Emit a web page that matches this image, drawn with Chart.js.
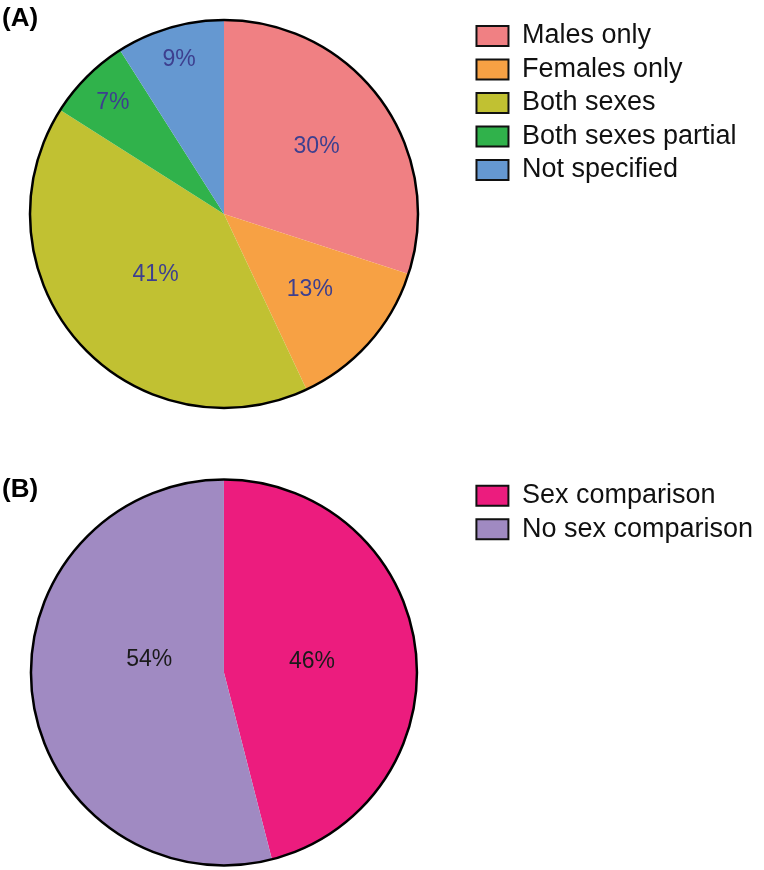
<!DOCTYPE html>
<html>
<head>
<meta charset="utf-8">
<script src="https://cdn.jsdelivr.net/npm/chart.js@4.4.1/dist/chart.umd.min.js"></script>
<style>
  body { margin: 0; background: #fff; overflow: hidden; }
  /* canvases are shifted left so the pie sits left of centre of its chart area */
  canvas { display: block; margin-left: -22px; }
</style>
</head>
<body>
<canvas id="graficoA" width="786" height="440"></canvas>
<canvas id="graficoB" width="786" height="430"></canvas>
<script>
const ctxA = document.getElementById('graficoA');
const ctxB = document.getElementById('graficoB');

    // (A) sex of animals used
    let grupos = ["Males only", "Females only", "Both sexes", "Both sexes partial", "Not specified"]
    let percentA = [30, 13, 41, 7, 9]
    let coresA = ["#f08083", "#f7a144", "#c1c132", "#30b24b", "#6598d1"]

    // (B) sex comparison
    let comparacao = ["Sex comparison", "No sex comparison"]
    let percentB = [46, 54]
    let coresB = ["#ec1c7e", "#a08ac2"]

    const fonte = '"Liberation Sans", Arial, Helvetica, sans-serif'

    // black outline round the whole pie, percent labels and the panel letter
    const piePlugin = {
        id: 'pieExtras',
        afterDatasetsDraw(chart, args, opts) {
            const c = chart.ctx
            const arcs = chart.getDatasetMeta(0).data
            const first = arcs[0]
            c.save()
            c.beginPath()
            c.arc(first.x, first.y, first.outerRadius, 0, Math.PI * 2)
            c.lineWidth = 2.5
            c.strokeStyle = '#000'
            c.stroke()

            c.font = '23px ' + fonte
            c.fillStyle = opts.labelColor
            c.textAlign = 'center'
            c.textBaseline = 'middle'
            const values = chart.data.datasets[0].data
            arcs.forEach((arc, i) => {
                const pos = opts.labelPos[i]
                const mid = (arc.startAngle + arc.endAngle) / 2
                const x = arc.x + Math.cos(mid) * arc.outerRadius * pos.r
                const y = arc.y + Math.sin(mid) * arc.outerRadius * pos.r + (pos.dy || 0)
                c.fillText(values[i] + '%', x, y)
            })

            c.font = 'bold 26px ' + fonte
            c.fillStyle = '#000'
            c.textAlign = 'left'
            c.textBaseline = 'alphabetic'
            c.fillText(opts.panel, 24, opts.panelY)
            c.restore()
        }
    }

    function legendLabels(chart) {
        const items = Chart.overrides.pie.plugins.legend.labels.generateLabels(chart)
        items.forEach(it => { it.strokeStyle = '#111'; it.lineWidth = 2 })
        return items
    }

    function legendOpts() {
        return {
            position: 'right',
            align: 'start',
            labels: {
                boxWidth: 32,
                boxHeight: 20,
                padding: 6.5,
                color: '#111',
                font: { size: 27, family: fonte },
                generateLabels: legendLabels
            }
        }
    }

    new Chart(ctxA, {
        type: 'pie',
        data: {
            labels: grupos,
            datasets: [{
                data: percentA,
                backgroundColor: coresA,
                borderWidth: 0,
                radius: 194
            }]
        },
        options: {
            responsive: false,
            animation: false,
            layout: { padding: { left: 0, right: 17.4, top: 16, bottom: 28 } },
            plugins: {
                legend: legendOpts(),
                tooltip: { enabled: false },
                pieExtras: {
                    panel: '(A)',
                    panelY: 26,
                    labelColor: '#3d3f8f',
                    labelPos: [{ r: 0.59 }, { r: 0.59 }, { r: 0.47 }, { r: 0.81 }, { r: 0.83 }]
                }
            }
        },
        plugins: [piePlugin]
    });

    new Chart(ctxB, {
        type: 'pie',
        data: {
            labels: comparacao,
            datasets: [{
                data: percentB,
                backgroundColor: coresB,
                borderWidth: 0,
                radius: 193
            }]
        },
        options: {
            responsive: false,
            animation: false,
            layout: { padding: { left: 0, right: 1, top: 35.7, bottom: 0.7 } },
            plugins: {
                legend: legendOpts(),
                tooltip: { enabled: false },
                pieExtras: {
                    panel: '(B)',
                    panelY: 57,
                    labelColor: '#1a1a1a',
                    labelPos: [{ r: 0.46 }, { r: 0.39, dy: -22 }]
                }
            }
        },
        plugins: [piePlugin]
    });
</script>
</body>
</html>
